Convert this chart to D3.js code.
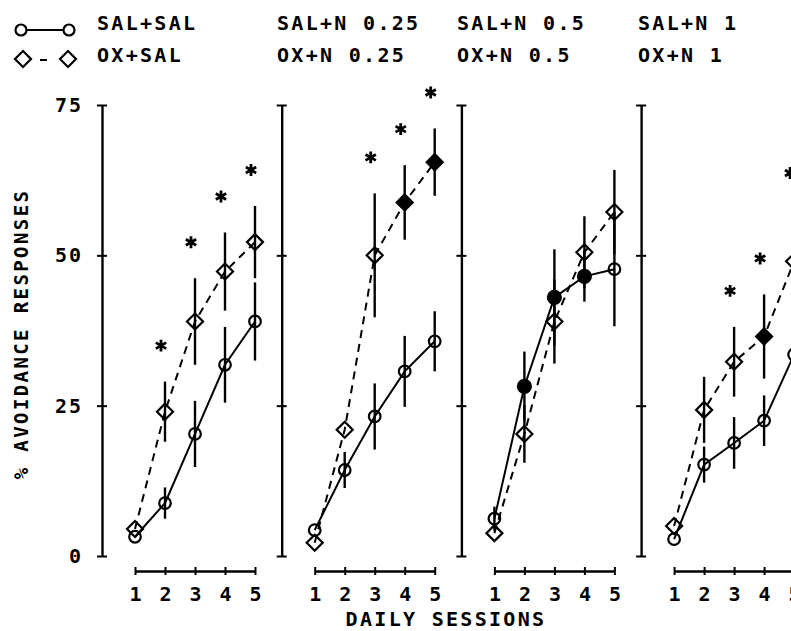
<!DOCTYPE html>
<html>
<head>
<meta charset="utf-8">
<script src="https://cdn.jsdelivr.net/npm/d3@7/dist/d3.min.js"></script>
<style>
  body { margin: 0; background: #fff; }
  text { font-family: "DejaVu Sans Mono", monospace; fill: #000; font-weight: bold; }
</style>
</head>
<body>
<svg id="chart"></svg>
<script>
var width = 791;
var height = 631;

// data (% avoidance responses, 5 daily sessions)
var sessions = [1, 2, 3, 4, 5];
var salLabels = ["SAL+SAL", "SAL+N 0.25", "SAL+N 0.5", "SAL+N 1"];
var oxLabels = ["OX+SAL", "OX+N 0.25", "OX+N 0.5", "OX+N 1"];
var yTicks = [0, 25, 50, 75];

var salMean = [
  [3.2, 8.8, 20.3, 31.8, 39.0],
  [4.3, 14.3, 23.2, 30.7, 35.7],
  [6.2, 28.2, 43.0, 46.5, 47.7],
  [2.8, 15.2, 18.8, 22.5, 33.5]
];
var salSem = [
  [0, 2.6, 5.5, 6.3, 6.5],
  [0, 3.0, 5.5, 5.9, 5.0],
  [2.0, 5.8, 8.0, 4.2, 9.5],
  [0, 3.0, 4.3, 4.2, 5.0]
];
var salFilled = [
  [0, 0, 0, 0, 0],
  [0, 0, 0, 0, 0],
  [0, 1, 1, 1, 0],
  [0, 0, 0, 0, 0]
];
var oxMean = [
  [4.5, 24.0, 39.0, 47.3, 52.2],
  [2.2, 21.0, 50.0, 58.8, 65.5],
  [3.8, 20.3, 39.0, 50.5, 57.2],
  [5.0, 24.3, 32.3, 36.5, 49.0]
];
var oxSem = [
  [0, 5.0, 7.2, 6.5, 6.0],
  [0, 0, 10.3, 6.2, 5.6],
  [0, 4.8, 7.0, 6.0, 7.0],
  [0, 5.5, 5.8, 7.0, 8.7]
];
var oxFilled = [
  [0, 0, 0, 0, 0],
  [0, 0, 0, 1, 1],
  [0, 0, 0, 0, 0],
  [0, 0, 0, 1, 0]
];
// significance stars above OX points
var stars = [
  [0, 1, 1, 1, 1],
  [0, 0, 1, 1, 1],
  [0, 0, 0, 0, 0],
  [0, 0, 1, 1, 1]
];

var svg = d3.select("#chart")
  .attr("width", width)
  .attr("height", height);

svg.append("rect").attr("width", width).attr("height", height).attr("fill", "#fff");

var y = d3.scaleLinear().domain([0, 75]).range([556, 105]);
var panelX = d3.scaleLinear().domain([0, 1]).range([135, 314.7]);
var xAxisY = 571;

// square diamond, not d3's tall one
var diamond = "M0,-8L8,0L0,8L-8,0Z";
var star = d3.symbol().type(d3.symbolAsterisk).size(100);

var lineSolid = d3.line();

// legend
var leg = svg.append("g");
leg.append("line").attr("x1", 27).attr("x2", 63).attr("y1", 30).attr("y2", 30)
  .attr("stroke", "#000").attr("stroke-width", 2);
[21, 69].forEach(function(cx) {
  leg.append("circle").attr("cx", cx).attr("cy", 30).attr("r", 5.5)
    .attr("fill", "none").attr("stroke", "#000").attr("stroke-width", 2.2);
});
leg.append("line").attr("x1", 40).attr("x2", 47).attr("y1", 60).attr("y2", 60)
  .attr("stroke", "#000").attr("stroke-width", 2);
[23, 68].forEach(function(cx) {
  leg.append("path").attr("d", diamond).attr("transform", "translate(" + cx + ",59)")
    .attr("fill", "none").attr("stroke", "#000").attr("stroke-width", 2.2);
});

var labelX = [97, 277, 457, 638];
salLabels.forEach(function(t, i) {
  svg.append("text").attr("x", labelX[i]).attr("y", 30)
    .style("font-size", "20px").style("letter-spacing", "2.3px").text(t);
  svg.append("text").attr("x", labelX[i]).attr("y", 62)
    .style("font-size", "20px").style("letter-spacing", "2.3px").text(oxLabels[i]);
});

// panels
salMean.forEach(function(sal, p) {
  var x0 = panelX(p);
  var x = d3.scaleLinear().domain([1, 5]).range([x0, x0 + 120]);
  var g = svg.append("g");

  // y axis
  var yAxis = d3.axisLeft(y).tickValues(yTicks).tickSizeOuter(0).tickSizeInner(5)
    .tickPadding(14)
    .tickFormat(p == 0 ? d3.format("d") : function() { return ""; });
  var ya = g.append("g").attr("transform", "translate(" + (x0 - 33) + ",0)").call(yAxis);
  ya.select(".domain").attr("stroke-width", 2.4);
  ya.selectAll(".tick line").attr("x1", -5).attr("x2", 5).attr("stroke-width", 2);
  ya.selectAll(".tick text").style("font-size", "20px").style("letter-spacing", "2px")
    .style("font-family", "DejaVu Sans Mono");

  // x axis
  var xAxis = d3.axisBottom(x).tickValues(sessions).tickSizeOuter(0).tickSizeInner(4)
    .tickPadding(12).tickFormat(d3.format("d"));
  var xa = g.append("g").attr("transform", "translate(0," + xAxisY + ")").call(xAxis);
  xa.select(".domain").attr("stroke-width", 2.4);
  xa.selectAll(".tick line").attr("y1", -4).attr("y2", 4).attr("stroke-width", 2);
  xa.selectAll(".tick text").style("font-size", "20px")
    .style("font-family", "DejaVu Sans Mono");

  var ox = oxMean[p];
  var salPts = sessions.map(function(s, i) { return [x(s), y(sal[i])]; });
  var oxPts = sessions.map(function(s, i) { return [x(s), y(ox[i])]; });

  g.append("path").attr("d", lineSolid(salPts)).attr("fill", "none")
    .attr("stroke", "#000").attr("stroke-width", 2);
  g.append("path").attr("d", lineSolid(oxPts)).attr("fill", "none")
    .attr("stroke", "#000").attr("stroke-width", 2).attr("stroke-dasharray", "8,6");

  // error bars
  sessions.forEach(function(s, i) {
    if (salSem[p][i] > 0) {
      g.append("line").attr("x1", x(s)).attr("x2", x(s))
        .attr("y1", y(sal[i] - salSem[p][i])).attr("y2", y(sal[i] + salSem[p][i]))
        .attr("stroke", "#000").attr("stroke-width", 2.4);
    }
    if (oxSem[p][i] > 0) {
      g.append("line").attr("x1", x(s)).attr("x2", x(s))
        .attr("y1", y(ox[i] - oxSem[p][i])).attr("y2", y(ox[i] + oxSem[p][i]))
        .attr("stroke", "#000").attr("stroke-width", 2.4);
    }
  });

  // markers
  sessions.forEach(function(s, i) {
    g.append("circle").attr("cx", x(s)).attr("cy", y(sal[i]))
      .attr("r", salFilled[p][i] ? 6.5 : 5.8)
      .attr("fill", salFilled[p][i] ? "#000" : "none")
      .attr("stroke", "#000").attr("stroke-width", 2.2);
    g.append("path").attr("d", diamond)
      .attr("transform", "translate(" + x(s) + "," + y(ox[i]) + ")")
      .attr("fill", oxFilled[p][i] ? "#000" : "none")
      .attr("stroke", "#000").attr("stroke-width", 2.2);
    if (stars[p][i]) {
      var top = y(ox[i] + oxSem[p][i]) - 36;
      g.append("path").attr("d", star)
        .attr("transform", "translate(" + (x(s) - 4) + "," + top + ")")
        .attr("fill", "none").attr("stroke", "#000").attr("stroke-width", 2.8);
    }
  });
});

// axis titles
svg.append("text")
  .attr("transform", "translate(28,334) rotate(-90)")
  .attr("text-anchor", "middle")
  .style("font-size", "19px").style("letter-spacing", "2.4px")
  .text("% AVOIDANCE RESPONSES");

svg.append("text").attr("x", 446).attr("y", 626)
  .attr("text-anchor", "middle")
  .style("font-size", "20px").style("letter-spacing", "2.3px")
  .text("DAILY SESSIONS");
</script>
</body>
</html>
